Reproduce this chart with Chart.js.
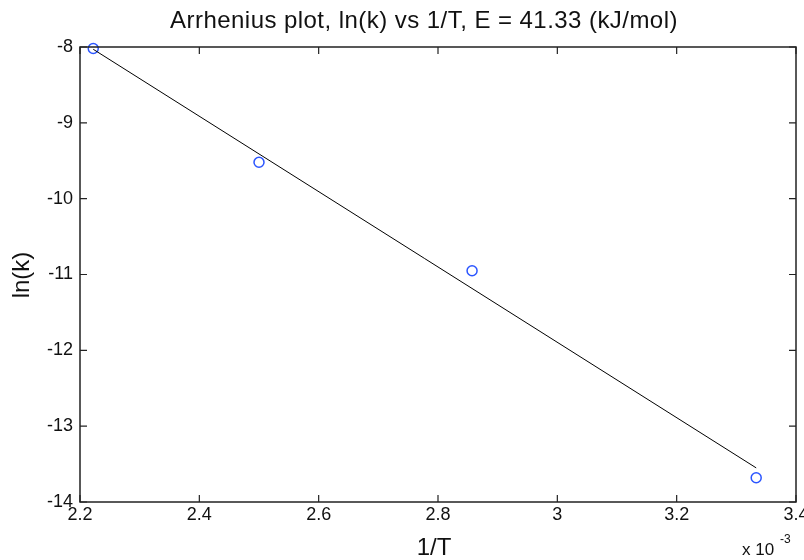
<!DOCTYPE html>
<html>
<head>
<meta charset="utf-8">
<script src="https://cdn.jsdelivr.net/npm/chart.js@4/dist/chart.umd.min.js"></script>
<style>
  html, body { margin: 0; padding: 0; background: #fff; }
  canvas { display: block; }
</style>
</head>
<body>
<canvas id="arrhenius" width="804" height="560"></canvas>
<script>
// data (1/T in units of 1e-3)
const invT = [2.2222, 2.5, 2.8571, 3.3333];
const lnK = [-8.02, -9.52, -10.95, -13.68];
// fitted line end points
const fitX = [2.2222, 3.3333];
const fitY = [-8.03, -13.55];

const titleText = "Arrhenius plot, ln(k) vs 1/T, E = 41.33 (kJ/mol)";
const xLabel = "1/T";
const yLabel = "ln(k)";
const FONT = "'Liberation Sans', Arial, sans-serif";

// box, inward ticks and texts like the matlab figure
const matlabFrame = {
    id: "matlabFrame",
    afterDraw(chart) {
        const ctx = chart.ctx;
        const a = chart.chartArea;
        const xs = chart.scales.x;
        const ys = chart.scales.y;
        ctx.save();
        ctx.strokeStyle = "#222";
        ctx.lineWidth = 1.5;
        ctx.strokeRect(a.left, a.top, a.right - a.left, a.bottom - a.top);

        ctx.lineWidth = 1.2;
        ctx.beginPath();
        xs.ticks.forEach((t) => {
            const px = xs.getPixelForValue(t.value);
            ctx.moveTo(px, a.bottom);
            ctx.lineTo(px, a.bottom - 7);
            ctx.moveTo(px, a.top);
            ctx.lineTo(px, a.top + 7);
        });
        ys.ticks.forEach((t) => {
            const py = ys.getPixelForValue(t.value);
            ctx.moveTo(a.left, py);
            ctx.lineTo(a.left + 7, py);
            ctx.moveTo(a.right, py);
            ctx.lineTo(a.right - 7, py);
        });
        ctx.stroke();

        ctx.fillStyle = "#111";
        ctx.textAlign = "center";
        ctx.textBaseline = "alphabetic";
        ctx.font = "24px " + FONT;
        ctx.letterSpacing = "0.45px";
        ctx.fillText(titleText, 424, 28);
        ctx.letterSpacing = "0px";

        ctx.textBaseline = "middle";
        ctx.font = "24px " + FONT;
        ctx.fillText(xLabel, 434, 548);

        ctx.save();
        ctx.translate(22, 275);
        ctx.rotate(-Math.PI / 2);
        ctx.fillText(yLabel, 0, 0);
        ctx.restore();

        ctx.textAlign = "left";
        ctx.textBaseline = "alphabetic";
        ctx.font = "17px " + FONT;
        ctx.fillText("x 10", 742, 555);
        ctx.font = "12px " + FONT;
        ctx.fillText("-3", 780, 543);
        ctx.restore();
    },
};

const ctx = document.getElementById("arrhenius").getContext("2d");
const arrheniusChart = new Chart(ctx, {
    type: "scatter",
    data: {
        datasets: [
            {
                label: "fit",
                data: fitX.map((x, i) => ({ x: x, y: fitY[i] })),
                showLine: true,
                borderColor: "#000",
                borderWidth: 1,
                pointRadius: 0,
                clip: false,
            },
            {
                label: "ln(k)",
                data: invT.map((x, i) => ({ x: x, y: lnK[i] })),
                pointStyle: "circle",
                pointRadius: 5,
                pointBorderWidth: 1.5,
                pointBorderColor: "#2b55ff",
                pointBackgroundColor: "rgba(0,0,0,0)",
                clip: false,
            },
        ],
    },
    options: {
        responsive: false,
        animation: false,
        layout: { padding: { top: 47, right: 8, left: 0, bottom: 0 } },
        plugins: {
            legend: { display: false },
            tooltip: { enabled: false },
        },
        scales: {
            x: {
                type: "linear",
                min: 2.2,
                max: 3.4,
                ticks: {
                    stepSize: 0.2,
                    color: "#111",
                    font: { family: FONT, size: 18 },
                    padding: 2,
                    maxRotation: 0,
                    callback: (v) => Number(v.toFixed(1)).toString(),
                },
                grid: { drawOnChartArea: false, drawTicks: false },
                border: { display: false },
                afterFit: (s) => {
                    s.height = 58;
                    s.paddingLeft = 0;
                    s.paddingRight = 0;
                },
            },
            y: {
                type: "linear",
                min: -14,
                max: -8,
                ticks: {
                    stepSize: 1,
                    color: "#111",
                    font: { family: FONT, size: 18 },
                    padding: 7,
                },
                grid: { drawOnChartArea: false, drawTicks: false },
                border: { display: false },
                afterFit: (s) => {
                    s.width = 80;
                    s.paddingTop = 0;
                    s.paddingBottom = 0;
                },
            },
        },
    },
    plugins: [matlabFrame],
});
</script>
</body>
</html>
